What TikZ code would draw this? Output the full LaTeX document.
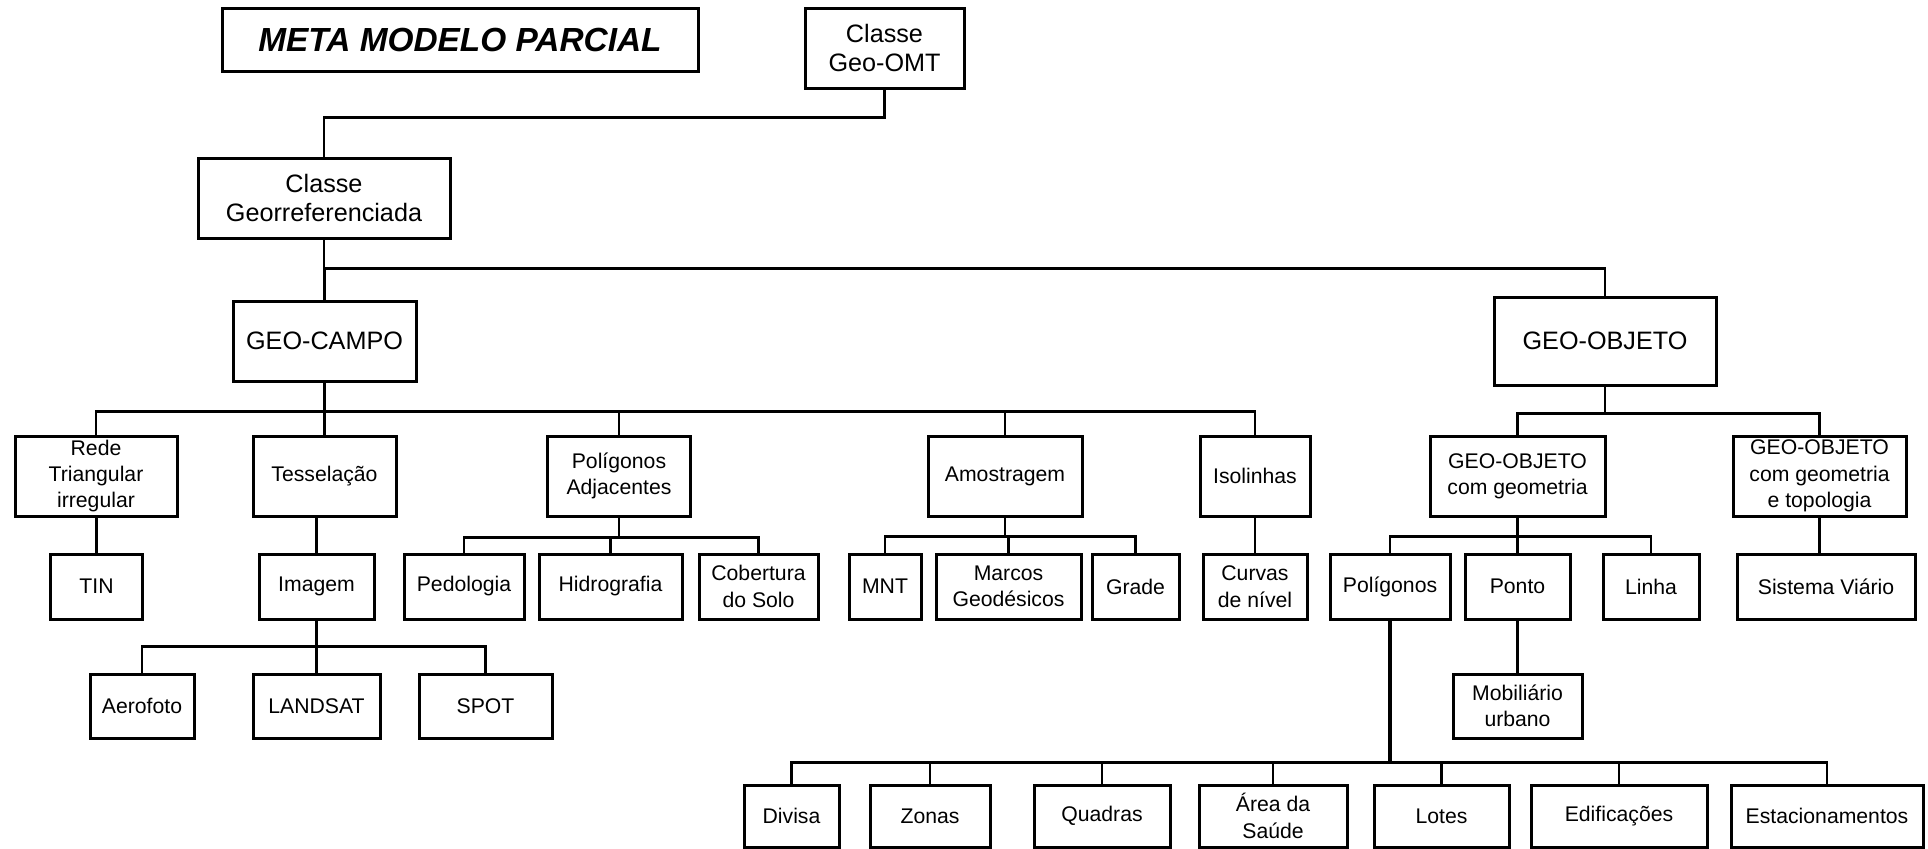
\documentclass[tikz,border=0pt]{standalone}
\usepackage{fontspec}
\setmainfont{Liberation Sans}
\usepackage{tikz}

\tikzset{
  box/.style={draw, line width=1.5pt, align=center, inner sep=0pt,
    font=\fontsize{10.6}{13.2}\selectfont},
  bigbox/.style={box, font=\fontsize{12.6}{14.7}\selectfont},
  link/.style={line width=1.4pt},
  thicklink/.style={line width=2.4pt}
}

\begin{document}
\begin{tikzpicture}[x=0.5pt, y=-0.5pt]
\useasboundingbox (0,0) rectangle (1928,848);

\node[box, minimum width=238pt, minimum height=31.5pt, font=\fontsize{16.7}{20}\selectfont\bfseries\itshape] (title) at (460,39.5) {META MODELO PARCIAL};

\node[bigbox, minimum width=79.5pt, minimum height=40pt] (geoomt) at (884.5,48) {Classe\\Geo-OMT};
\node[bigbox, minimum width=126pt, minimum height=40pt] (georef) at (324,198) {Classe\\Georreferenciada};
\node[bigbox, minimum width=91.5pt, minimum height=40pt] (geocampo) at (324.5,341) {GEO-CAMPO};
\node[bigbox, minimum width=111pt, minimum height=44pt] (geoobjeto) at (1605,341) {GEO-OBJETO};

\node[box, minimum width=81pt, minimum height=40pt] (rede) at (96,476) {Rede\\Triangular\\irregular};
\node[box, minimum width=71.5pt, minimum height=40pt] (tessel) at (324.5,476) {Tesselação};
\node[box, minimum width=71.5pt, minimum height=40pt] (poladj) at (619,476) {Polígonos\\Adjacentes};
\node[box, minimum width=77pt, minimum height=40pt] (amostr) at (1005,476) {Amostragem};
\node[box, minimum width=55pt, minimum height=40pt] (isolin) at (1255,476) {Isolinhas};
\node[box, minimum width=87.5pt, minimum height=40pt] (comgeo) at (1517.5,476) {GEO-OBJETO\\com geometria};
\node[box, minimum width=86.5pt, minimum height=40pt] (comtopo) at (1819.5,476) {GEO-OBJETO\\com geometria\\e topologia};

\node[box, minimum width=46pt, minimum height=32.5pt] (tin) at (96.5,586.5) {TIN};
\node[box, minimum width=57.5pt, minimum height=32.5pt] (imagem) at (316.5,586.5) {Imagem};
\node[box, minimum width=60pt, minimum height=32.5pt] (pedologia) at (464,586.5) {Pedologia};
\node[box, minimum width=71.5pt, minimum height=32.5pt] (hidro) at (610.5,586.5) {Hidrografia};
\node[box, minimum width=59.5pt, minimum height=32.5pt] (cobert) at (758.5,586.5) {Cobertura\\do Solo};
\node[box, minimum width=36pt, minimum height=32.5pt] (mnt) at (885,586.5) {MNT};
\node[box, minimum width=72.5pt, minimum height=32.5pt] (marcos) at (1008.5,586.5) {Marcos\\Geodésicos};
\node[box, minimum width=43.5pt, minimum height=32.5pt] (grade) at (1135.5,586.5) {Grade};
\node[box, minimum width=52pt, minimum height=32.5pt] (curvas) at (1255,586.5) {Curvas\\de nível};
\node[box, minimum width=60pt, minimum height=32.5pt] (poligonos) at (1390,586.5) {Polígonos};
\node[box, minimum width=52.5pt, minimum height=32.5pt] (ponto) at (1517.5,586.5) {Ponto};
\node[box, minimum width=48pt, minimum height=32.5pt] (linha) at (1651,586.5) {Linha};
\node[box, minimum width=89pt, minimum height=32.5pt] (sistema) at (1826,586.5) {Sistema Viário};

\node[box, minimum width=52pt, minimum height=32pt] (aerofoto) at (142,706) {Aerofoto};
\node[box, minimum width=63.5pt, minimum height=32pt] (landsat) at (316.5,706) {LANDSAT};
\node[box, minimum width=66.5pt, minimum height=32pt] (spot) at (485.5,706) {SPOT};
\node[box, minimum width=64.5pt, minimum height=32pt] (mobil) at (1517.5,706) {Mobiliário\\urbano};

\node[box, minimum width=47.5pt, minimum height=31pt] (divisa) at (791.5,816) {Divisa};
\node[box, minimum width=60pt, minimum height=31pt] (zonas) at (930,816) {Zonas};
\node[box, minimum width=68pt, minimum height=31pt] (quadras) at (1102,816) {Quadras};
\node[box, minimum width=74pt, minimum height=31pt] (saude) at (1273,816) {Área da\\Saúde};
\node[box, minimum width=67.5pt, minimum height=31pt] (lotes) at (1441.5,816) {Lotes};
\node[box, minimum width=88pt, minimum height=31pt] (edif) at (1619,816) {Edificações};
\node[box, minimum width=96pt, minimum height=31pt] (estac) at (1827,816) {Estacionamentos};

\draw[link] (geoomt.south) -- ++(0,28) -| (georef.north);
\foreach \c in {geocampo,geoobjeto}
  \draw[link] (georef.south) -- ++(0,29) -| (\c.north);
\foreach \c in {rede,tessel,poladj,amostr,isolin}
  \draw[link] (geocampo.south) -- ++(0,29) -| (\c.north);
\foreach \c in {comgeo,comtopo}
  \draw[link] (geoobjeto.south) -- ++(0,27) -| (\c.north);

\draw[link] (rede.south -| tin.north) -- (tin.north);
\draw[link] (tessel.south -| imagem.north) -- (imagem.north);
\draw[link] (isolin.south) -- (curvas.north);
\draw[link] (comtopo.south) -- (comtopo.south |- sistema.north);
\foreach \c in {pedologia,hidro,cobert}
  \draw[link] (poladj.south) -- ++(0,20) -| (\c.north);
\foreach \c in {mnt,marcos,grade}
  \draw[link] (amostr.south) -- ++(0,19) -| (\c.north);
\foreach \c in {poligonos,ponto,linha}
  \draw[link] (comgeo.south) -- ++(0,19) -| (\c.north);

\foreach \c in {aerofoto,landsat,spot}
  \draw[link] (imagem.south) -- ++(0,26) -| (\c.north);
\draw[link] (ponto.south) -- (mobil.north);

\draw[thicklink] (poligonos.south) -- ++(0,142);
\foreach \c in {divisa,zonas,quadras,saude,lotes,edif,estac}
  \draw[link] (poligonos.south) ++(0,142) -| (\c.north);
\end{tikzpicture}
\end{document}
